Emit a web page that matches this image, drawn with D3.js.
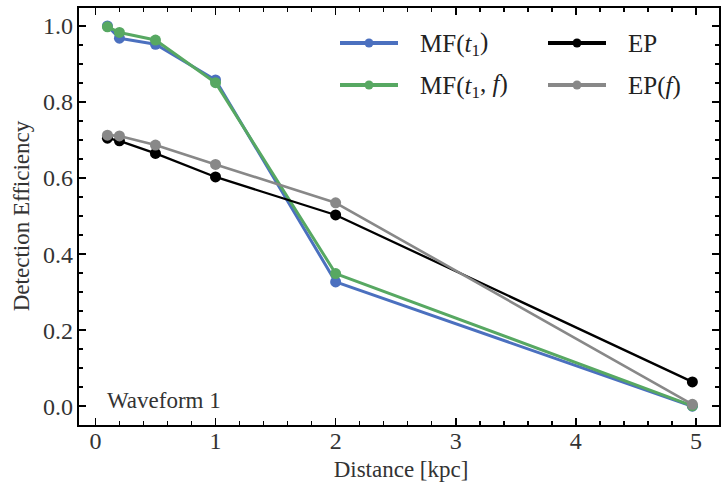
<!DOCTYPE html>
<html>
<head>
<meta charset="utf-8">
<script src="https://cdn.jsdelivr.net/npm/d3@7"></script>
<style>
  body { margin: 0; background: #fff; }
</style>
</head>
<body>
<div id="chart"></div>
<script>
// distances in kpc
var distances = [0.1, 0.2, 0.5, 1, 2, 4.97];

var mfT1 = [1.0, 0.968, 0.952, 0.858, 0.327, 0.0];
var mfT1F = [0.998, 0.983, 0.963, 0.851, 0.349, 0.001];
var ep = [0.705, 0.698, 0.665, 0.603, 0.503, 0.064];
var epF = [0.713, 0.711, 0.687, 0.636, 0.535, 0.005];

var xTicks = [0, 1, 2, 3, 4, 5];
var yTicks = [0.0, 0.2, 0.4, 0.6, 0.8, 1.0];

var series = [
    { name: "MF(t1)", values: mfT1, color: "#4b70bf", w: 3 },
    { name: "MF(t1,f)", values: mfT1F, color: "#57a862", w: 3 },
    { name: "EP", values: ep, color: "#000000", w: 2.3 },
    { name: "EP(f)", values: epF, color: "#888888", w: 2.6 }
];

var width = 724,
    height = 488,
    serif = "'Liberation Serif', 'Times New Roman', serif";

var frame = { left: 78, right: 720, top: 7, bottom: 426 };

var svg = d3.select("#chart")
    .append("svg")
    .attr("width", width)
    .attr("height", height)
    .style("font-family", serif);

var x = d3.scaleLinear()
    .domain([-0.145, 5.2])
    .range([frame.left, frame.right]);

var y = d3.scaleLinear()
    .domain([-0.052, 1.05])
    .range([frame.bottom, frame.top]);

var minorX = d3.range(0, 5.2001, 0.2).filter(v => Math.abs(v - Math.round(v)) > 1e-6);
var minorY = d3.range(0, 1.0501, 0.05).filter(v => Math.abs(v * 5 - Math.round(v * 5)) > 1e-6);

// frame ticks (inward, on all four sides)
var tickG = svg.append("g")
    .style("stroke", "#000")
    .style("shape-rendering", "crispEdges");

function xTick(v, len) {
    tickG.append("line")
        .attr("x1", x(v)).attr("x2", x(v))
        .attr("y1", frame.bottom).attr("y2", frame.bottom - len)
        .style("stroke-width", "1.5px");
    tickG.append("line")
        .attr("x1", x(v)).attr("x2", x(v))
        .attr("y1", frame.top).attr("y2", frame.top + len)
        .style("stroke-width", "1.5px");
}

function yTick(v, len) {
    tickG.append("line")
        .attr("x1", frame.left).attr("x2", frame.left + len)
        .attr("y1", y(v)).attr("y2", y(v))
        .style("stroke-width", "1.5px");
    tickG.append("line")
        .attr("x1", frame.right).attr("x2", frame.right - len)
        .attr("y1", y(v)).attr("y2", y(v))
        .style("stroke-width", "1.5px");
}

xTicks.forEach(v => xTick(v, 8));
minorX.forEach(v => xTick(v, 5));
yTicks.forEach(v => yTick(v, 8));
minorY.forEach(v => yTick(v, 5));

svg.append("rect")
    .attr("x", frame.left)
    .attr("y", frame.top)
    .attr("width", frame.right - frame.left)
    .attr("height", frame.bottom - frame.top)
    .style("fill", "none")
    .style("stroke", "#000")
    .style("stroke-width", "2px");

// tick labels
svg.append("g")
    .selectAll("text")
    .data(xTicks)
    .join("text")
    .attr("x", d => x(d))
    .attr("y", 449)
    .attr("text-anchor", "middle")
    .style("font-family", serif)
    .style("font-size", "24px")
    .style("fill", "#333")
    .text(d => d);

svg.append("g")
    .selectAll("text")
    .data(yTicks)
    .join("text")
    .attr("x", 73)
    .attr("y", d => y(d))
    .attr("dy", "0.35em")
    .attr("text-anchor", "end")
    .style("font-family", serif)
    .style("font-size", "24px")
    .style("fill", "#333")
    .text(d => d3.format(".1f")(d));

// axis titles
svg.append("text")
    .attr("x", 401)
    .attr("y", 477)
    .attr("text-anchor", "middle")
    .style("font-family", serif)
    .style("font-size", "23px")
    .style("fill", "#333")
    .text("Distance [kpc]");

svg.append("text")
    .attr("transform", "translate(29,216) rotate(-90)")
    .attr("text-anchor", "middle")
    .style("font-family", serif)
    .style("font-size", "23px")
    .style("fill", "#333")
    .text("Detection Efficiency");

svg.append("text")
    .attr("x", 107)
    .attr("y", 408)
    .style("font-family", serif)
    .style("font-size", "23px")
    .style("fill", "#333")
    .text("Waveform 1");

// series
var line = d3.line()
    .x((d, i) => x(distances[i]))
    .y(d => y(d));

series.forEach(s => {
    var g = svg.append("g");
    g.append("path")
        .datum(s.values)
        .attr("d", line)
        .style("fill", "none")
        .style("stroke", s.color)
        .style("stroke-width", s.w + "px")
        .style("stroke-linejoin", "round");
    g.selectAll("circle")
        .data(s.values)
        .join("circle")
        .attr("cx", (d, i) => x(distances[i]))
        .attr("cy", d => y(d))
        .attr("r", 5.5)
        .style("fill", s.color);
});

// legend
var legendPos = [
    { lx: 340, ty: 43 },
    { lx: 340, ty: 85 },
    { lx: 548, ty: 43 },
    { lx: 548, ty: 85 }
];

series.forEach((s, i) => {
    var p = legendPos[i];
    var g = svg.append("g");
    g.append("line")
        .attr("x1", p.lx).attr("x2", p.lx + 58)
        .attr("y1", p.ty).attr("y2", p.ty)
        .style("stroke", s.color)
        .style("stroke-width", "4px");
    g.append("circle")
        .attr("cx", p.lx + 29)
        .attr("cy", p.ty)
        .attr("r", 4.5)
        .style("fill", s.color);
    var t = g.append("text")
        .attr("x", p.lx + 80)
        .attr("y", p.ty)
        .attr("dy", "0.35em")
        .style("font-family", serif)
        .style("font-size", "25px")
        .style("fill", "#222");
    if (s.name == "MF(t1)" || s.name == "MF(t1,f)") {
        t.append("tspan").text("MF(");
        t.append("tspan").style("font-style", "italic").text("t");
        t.append("tspan").attr("dy", "0.25em").style("font-size", "17px").text("1");
        if (s.name == "MF(t1,f)") {
            t.append("tspan").attr("dy", "-0.25em").text(", ");
            t.append("tspan").style("font-style", "italic").text("f");
            t.append("tspan").text(")");
        } else {
            t.append("tspan").attr("dy", "-0.25em").text(")");
        }
    } else if (s.name == "EP(f)") {
        t.append("tspan").text("EP(");
        t.append("tspan").style("font-style", "italic").text("f");
        t.append("tspan").text(")");
    } else {
        t.text(s.name);
    }
});
</script>
</body>
</html>
